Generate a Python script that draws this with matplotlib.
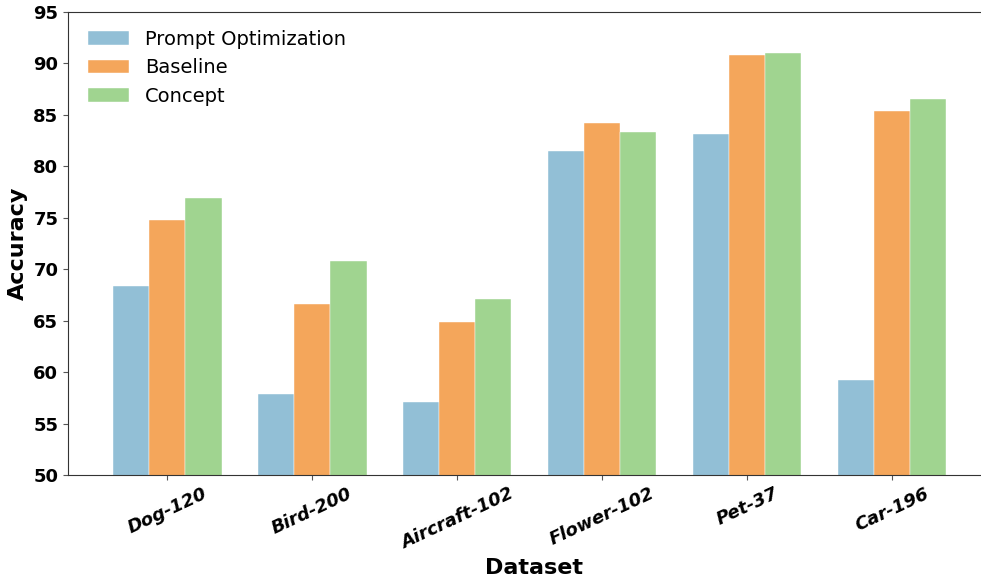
import numpy as np
import matplotlib
matplotlib.use('Agg')
import matplotlib.pyplot as plt

# Data
datasets = ['Dog-120', 'Bird-200', 'Aircraft-102', 'Flower-102', 'Pet-37', 'Car-196']
prompt_opt = [68.4, 57.9, 57.1, 81.5, 83.1, 59.2]
baseline = [74.8, 66.6, 64.9, 84.2, 90.8, 85.4]
concept = [76.9, 70.8, 67.1, 83.3, 91.0, 86.5]

series = [('Prompt Optimization', prompt_opt, '#92bfd6'),
          ('Baseline', baseline, '#f4a65b'),
          ('Concept', concept, '#a0d490')]

x = np.arange(len(datasets))
w = 0.25

fig = plt.figure(figsize=(9.81, 5.82), dpi=100)
ax = fig.add_axes([0.0693, 0.1838, 0.95, 0.7955])

for i, (name, vals, col) in enumerate(series):
    ax.bar(x + (i - 1) * w, vals, w, label=name, color=col,
           edgecolor='white', linewidth=0.3)

ax.set_ylim(50, 95)
ax.set_xlim(-0.685, 5.745)
ax.set_xticks(x)
ax.set_xticklabels(datasets, rotation=25, fontsize=13, fontweight='bold',
                   fontstyle='italic')
ax.set_yticks(np.arange(50, 96, 5))
for lab in ax.get_yticklabels():
    lab.set_fontsize(13)
    lab.set_fontweight('bold')
ax.set_xlabel('Dataset', fontsize=16, fontweight='bold')
ax.set_ylabel('Accuracy', fontsize=16, fontweight='bold')
for s in ax.spines.values():
    s.set_color('#333333')
ax.tick_params(colors='#555555', labelcolor='black')
ax.legend(loc='upper left', frameon=False, fontsize=14, handlelength=2.1,
          bbox_to_anchor=(0.003, 1.0))

fig.savefig('out.png')
